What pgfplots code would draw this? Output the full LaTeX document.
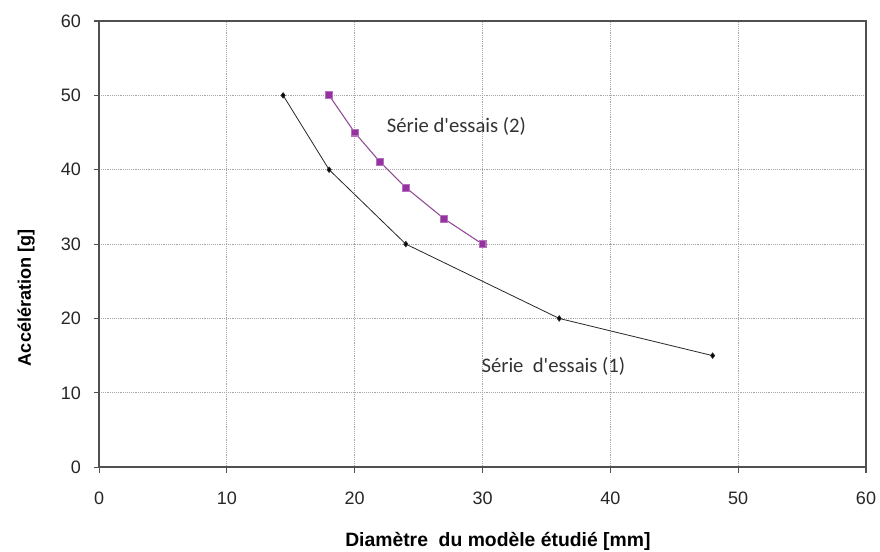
\documentclass[border=0pt]{standalone}
\usepackage{pgfplots}
\pgfplotsset{compat=1.18}
\usepackage{fontspec}
\setmainfont{Liberation Sans}
\newfontfamily\calib{Carlito}

\definecolor{serie2}{RGB}{150,50,160}
\definecolor{axisgray}{RGB}{80,80,80}

\begin{document}
\begin{tikzpicture}
	\begin{axis}[
		scale only axis,
		width=575pt,
		height=334.5pt,
		xmin=0, xmax=60,
		ymin=0, ymax=60,
		xtick={0,10,...,60},
		ytick={0,10,...,60},
		grid=major,
		major grid style={gray!70, densely dotted, line width=0.6pt},
		axis line style={axisgray, line width=1.2pt},
		tick style={axisgray, line width=0.8pt},
		tick align=outside,
		major tick length=4pt,
		xtick pos=bottom, ytick pos=left,
		ticklabel style={font=\fontsize{13.5}{15}\selectfont, text=black!85},
		/pgf/number format/assume math mode=true,
		xticklabel style={yshift=-11pt},
		yticklabel style={xshift=-6pt},
		xlabel={\bfseries Diamètre\ \ du modèle étudié [mm]},
		ylabel={\bfseries Accélération [g]},
		xlabel style={font=\fontsize{14.5}{16}\selectfont,
			at={(axis description cs:0.52,-0.166)}, anchor=center},
		ylabel style={font=\fontsize{13.6}{15}\selectfont,
			at={(axis description cs:-0.095,0.38)}, anchor=center},
		clip=false,
	]
		%% Série d'essais (1)
		\addplot[black!85, line width=0.6pt, mark=diamond*, mark size=2pt,
			mark options={fill=black}] coordinates {
			(14.4,50) (18,40) (24,30) (36,20) (48,15)
		};

		%% Série d'essais (2)
		\addplot[serie2!70!gray, line width=0.8pt, mark=square*, mark size=2.6pt,
			mark options={fill=serie2, draw=serie2!70}] coordinates {
			(18,50) (20,45) (22,41) (24,37.6) (27,33.4) (30,30)
		};

		\node[anchor=west, font=\calib\fontsize{15.5}{17}\selectfont, text=black!80, inner sep=0pt]
			at (axis cs:22.5,45.8) {Série d'essais (2)};
		\node[anchor=west, font=\calib\fontsize{15.5}{17}\selectfont, text=black!80, inner sep=0pt]
			at (axis cs:29.9,13.6) {Série\ \ d'essais (1)};
	\end{axis}
	\pgfresetboundingbox
	\path (current axis.south west)+(-74.25pt,-63pt) coordinate (bl);
	\path (current axis.north east)+(10.5pt,15.75pt) coordinate (tr);
	\path[use as bounding box] (bl) rectangle (tr);
\end{tikzpicture}
\end{document}
